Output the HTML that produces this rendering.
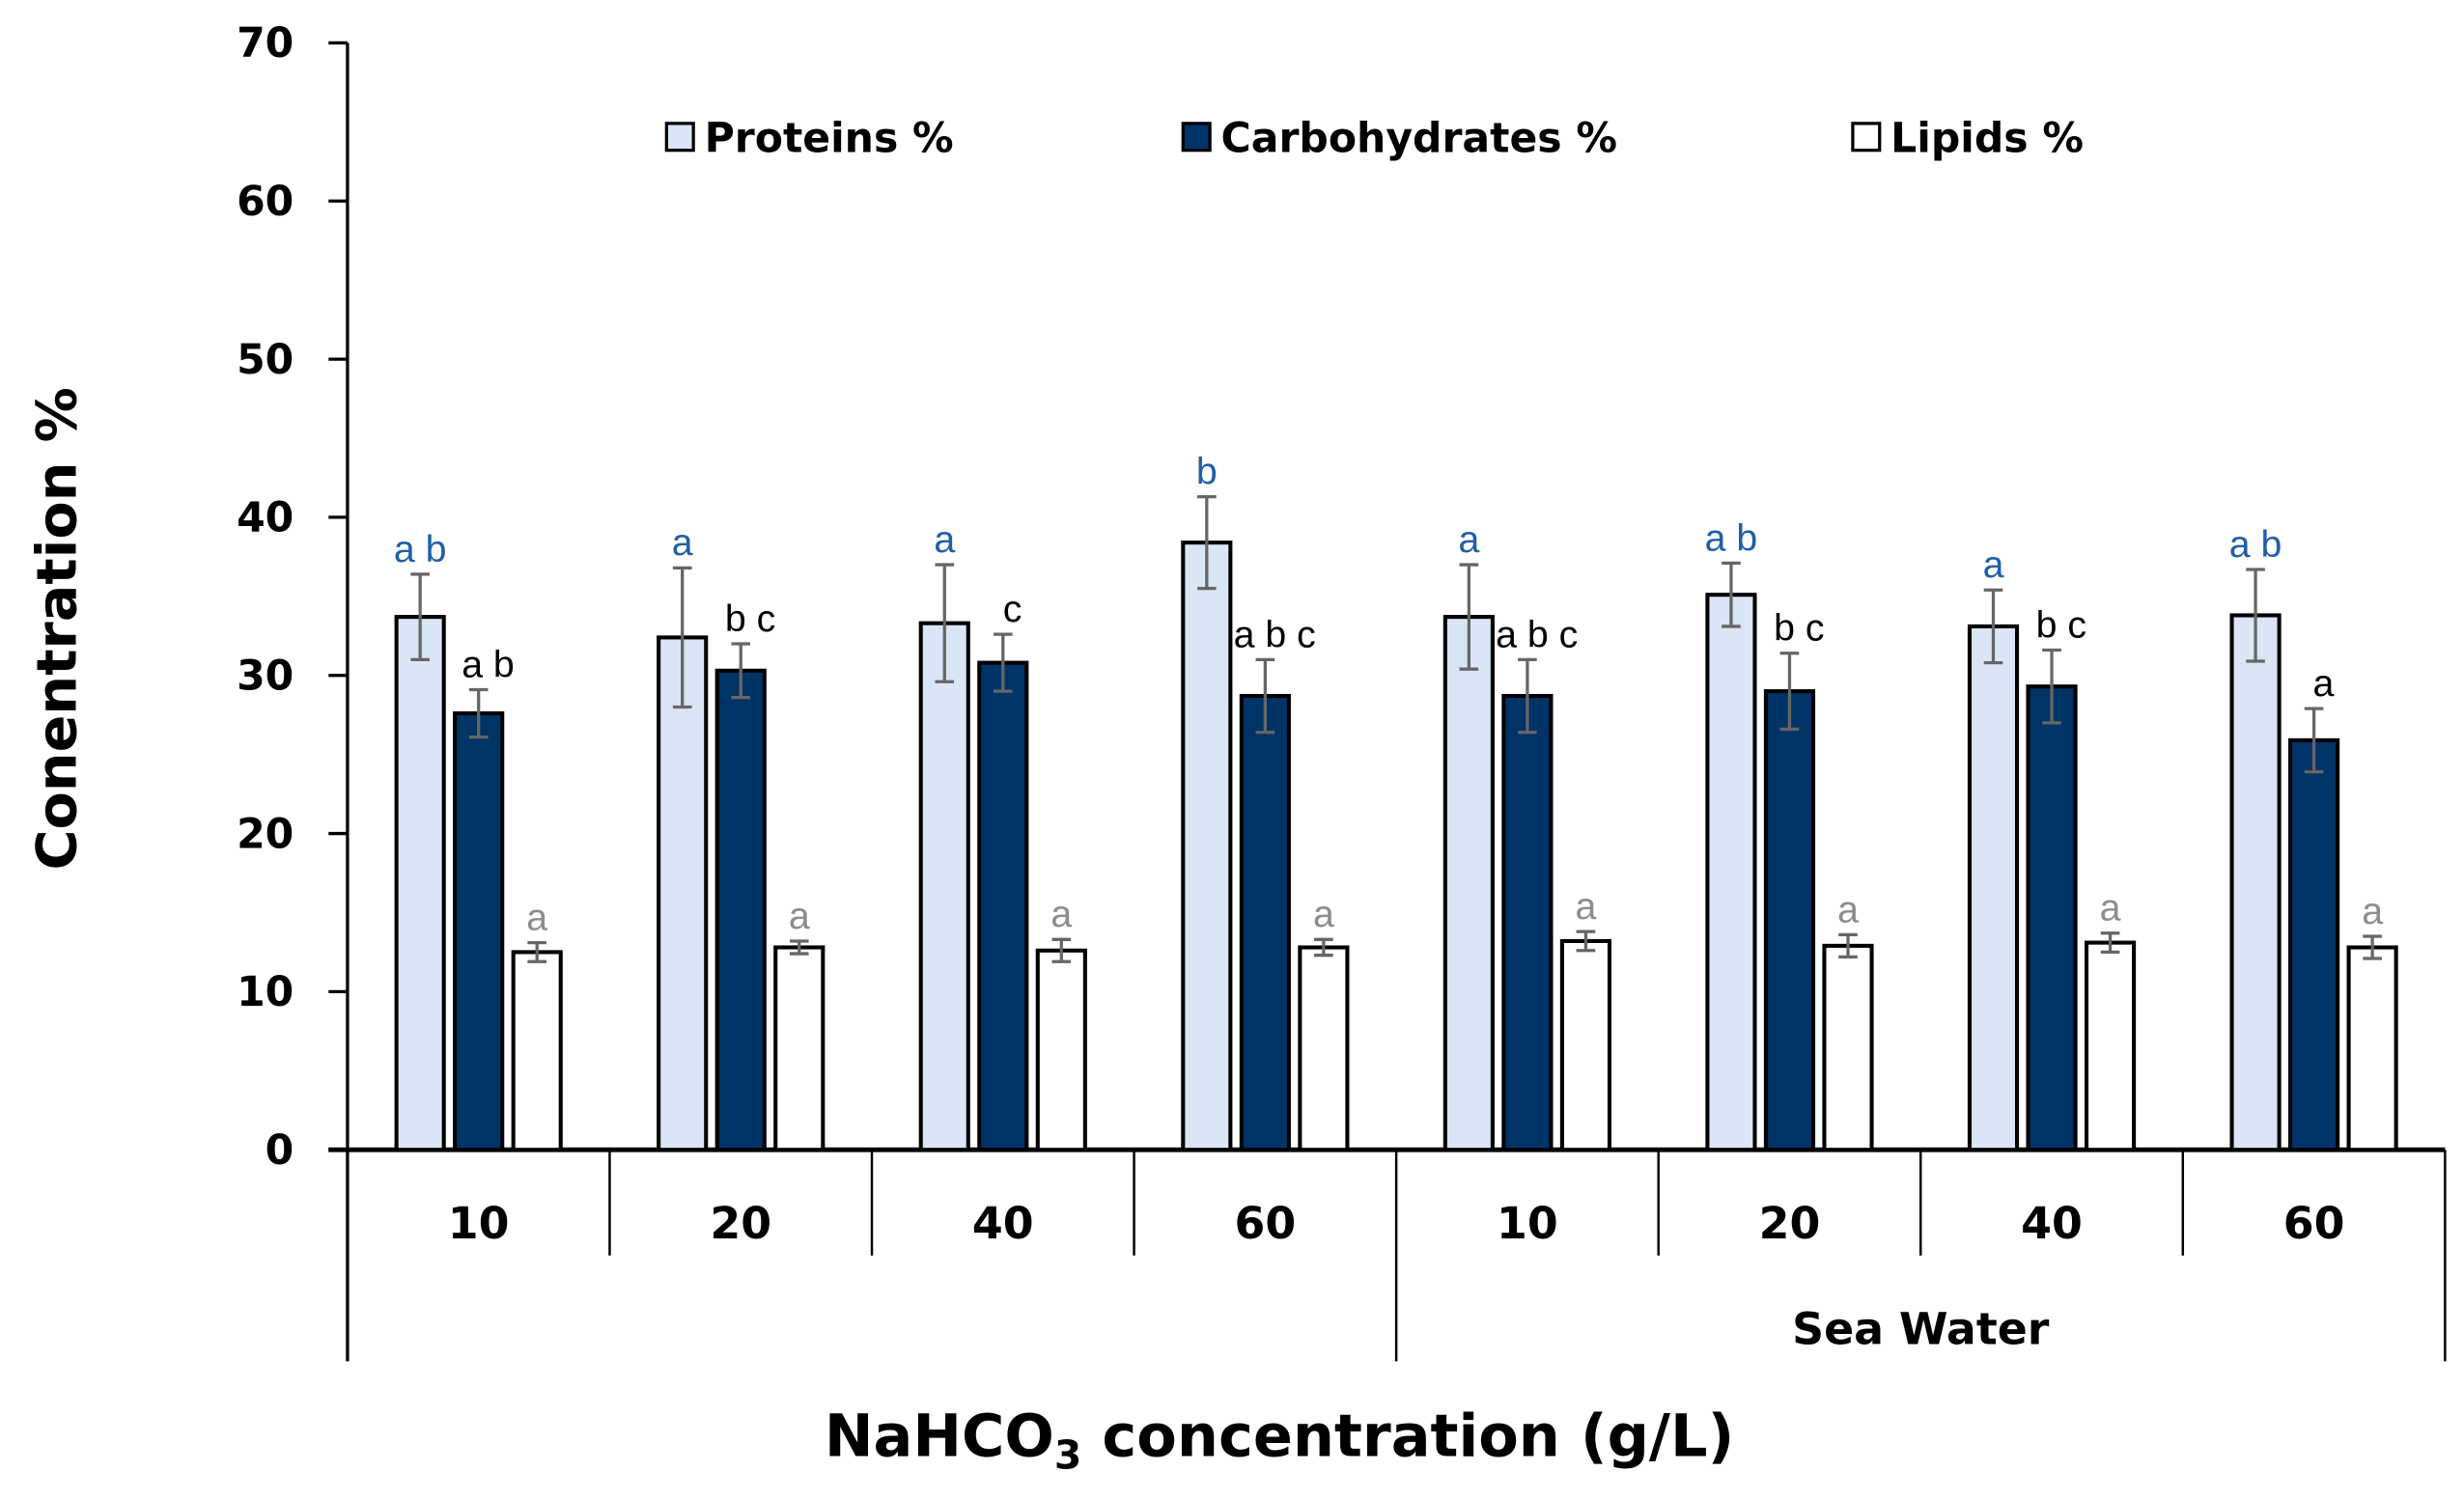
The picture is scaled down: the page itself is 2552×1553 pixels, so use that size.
<!DOCTYPE html>
<html><head><meta charset="utf-8"><style>
html,body{margin:0;padding:0;background:#fff;}
svg{display:block;}
text{font-family:"DejaVu Sans","Liberation Sans",sans-serif;font-weight:bold;}
</style></head><body>
<svg id="chart" width="2552" height="1553" viewBox="0 0 1560 949" xmlns="http://www.w3.org/2000/svg">
<g id="axes"></g>
<g id="bars"></g>
<g id="legend">
  <rect x="422" y="78" width="17" height="17" fill="#dae6f5" stroke="#000" stroke-width="2"/>
  <text x="446" y="96" font-size="26">Proteins %</text>
  <rect x="749" y="78" width="17" height="17" fill="#003366" stroke="#000" stroke-width="2"/>
  <text x="773" y="96" font-size="26">Carbohydrates %</text>
  <rect x="1173" y="78" width="17" height="17" fill="#fff" stroke="#000" stroke-width="2"/>
  <text x="1197" y="96" font-size="26">Lipids %</text>
</g>
<text transform="translate(48,398) rotate(-90)" text-anchor="middle" font-size="35">Conentration %</text>
<text x="810" y="922" text-anchor="middle" font-size="37">NaHCO<tspan font-size="25" dy="8">3</tspan><tspan dy="-8"> concentration (g/L)</tspan></text>
</svg>
<script>
const categories = ["10","20","40","60","10","20","40","60"];
const proteins = [33.7,32.4,33.3,38.4,33.7,35.1,33.1,33.8];
const proteinsErr = [2.7,4.4,3.7,2.9,3.3,2.0,2.3,2.9];
const carbs = [27.6,30.3,30.8,28.7,28.7,29.0,29.3,25.9];
const carbsErr = [1.5,1.7,1.8,2.3,2.3,2.4,2.3,2.0];
const lipids = [12.5,12.8,12.6,12.8,13.2,12.9,13.1,12.8];
const lipidsErr = [0.6,0.4,0.7,0.5,0.6,0.7,0.6,0.7];
const proteinLetters = ["a b","a","a","b","a","a b","a","a b"];
const carbLetters = ["a b","b c","c","a b c","a b c","b c","b c","a"];
const lipidLetters = ["a","a","a","a","a","a","a","a"];
const yTicks = [0,10,20,30,40,50,60,70];
const groupLabels = ["","Sea Water"];

const NS="http://www.w3.org/2000/svg";
const X0=220,X1=1548,Y0=728,Y70=27;
const y=v=>Y0-(Y0-Y70)*v/70;
const gw=(X1-X0)/categories.length;
const gc=i=>X0+gw*(i+0.5);
function mk(tag,attrs,parent,txt){const e=document.createElementNS(NS,tag);for(const k in attrs)e.setAttribute(k,attrs[k]);if(txt!==undefined)e.textContent=txt;parent.appendChild(e);return e;}
const axes=document.getElementById('axes'),bars=document.getElementById('bars');

yTicks.forEach(t=>{
  const l=mk('line',{x1:208,x2:X0,y1:y(t),y2:y(t),stroke:'#000','stroke-width':2},axes);
  
  
  const tx=mk('text',{x:186,y:y(t)+9,'text-anchor':'end','font-size':26},axes,String(t));
  
  
});
const ya=mk('line',{x1:X0,x2:X0,y1:Y70,y2:862,stroke:'#000','stroke-width':2},axes);


const xa=mk('line',{x1:208,x2:X1,y1:Y0,y2:Y0,stroke:'#000','stroke-width':3},axes);


for(let i=1;i<=categories.length;i++){
  const x=X0+gw*i;const major=(i%4===0);
  const d=mk('line',{x1:x,x2:x,y1:Y0,y2:major?862:795,stroke:'#000','stroke-width':1.5},axes);
  
  
}
categories.forEach((c,i)=>{
  const t=mk('text',{x:gc(i),y:784,'text-anchor':'middle','font-size':28},axes,c);
  
  
});
groupLabels.forEach((g,j)=>{
  if(!g)return;
  const t=mk('text',{x:X0+gw*(4*j+2),y:851,'text-anchor':'middle','font-size':28},axes,g);
  
  
});

const series=[
 {name:'proteins',vals:proteins,err:proteinsErr,let:proteinLetters,fill:'#dae6f5',off:-37,lc:'#1f5fa8',lx:0},
 {name:'carbohydrates',vals:carbs,err:carbsErr,let:carbLetters,fill:'#003366',off:0,lc:'#000',lx:6},
 {name:'lipids',vals:lipids,err:lipidsErr,let:lipidLetters,fill:'#fff',off:37,lc:'#8c8c8c',lx:0}
];
const bw=30;
series.forEach(s=>{
  s.vals.forEach((v,i)=>{
    const cx=gc(i)+s.off;
    const r=mk('rect',{x:cx-bw/2,y:y(v),width:bw,height:Y0-y(v),fill:s.fill,stroke:'#000','stroke-width':2.5},bars);
    
    
    const hi=y(v+s.err[i]),lo=y(v-s.err[i]);
    const eb=mk('path',{d:`M${cx},${hi}V${lo}M${cx-6},${hi}H${cx+6}M${cx-6},${lo}H${cx+6}`,stroke:'#666','stroke-width':2,fill:'none'},bars);
    
    
    const t=mk('text',{x:cx+s.lx,y:hi-8,'text-anchor':'middle','font-size':24,fill:s.lc,style:'font-weight:normal;font-family:"Liberation Sans",sans-serif'},bars,s.let[i]);
    
    
  });
});
</script>
</body></html>
